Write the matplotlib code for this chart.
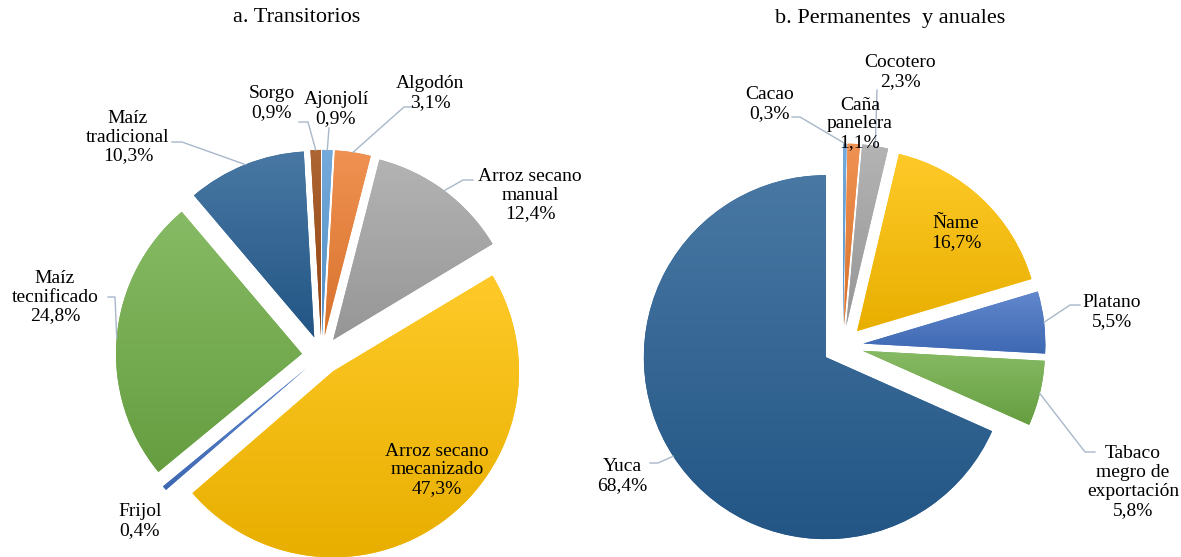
import numpy as np
import matplotlib.pyplot as plt
from matplotlib.colors import to_rgb

plt.rcParams['font.family'] = ['Liberation Serif', 'DejaVu Serif']

# a. Transitorios (clockwise from 12 o'clock)
trans_names = ['Ajonjolí', 'Algodón', 'Arroz secano\nmanual', 'Arroz secano\nmecanizado',
               'Frijol', 'Maíz\ntecnificado', 'Maíz\ntradicional', 'Sorgo']
trans_values = [0.9, 3.1, 12.4, 47.3, 0.4, 24.8, 10.3, 0.9]
trans_colors = ['#5B9BD5', '#ED7D31', '#A5A5A5', '#FFC000', '#4472C4', '#70AD47', '#265E92', '#9E480E']

# b. Permanentes y anuales
perm_names = ['Cacao', 'Caña\npanelera', 'Cocotero', 'Ñame', 'Platano',
              'Tabaco\nmegro de\nexportación', 'Yuca']
perm_values = [0.3, 1.1, 2.3, 16.7, 5.5, 5.8, 68.4]
perm_colors = ['#5B9BD5', '#ED7D31', '#A5A5A5', '#FFC000', '#4472C4', '#70AD47', '#265E92']

W, H = 1181, 557
fig = plt.figure(figsize=(W / 100, H / 100), dpi=100)
ax = fig.add_axes([0, 0, 1, 1])


def Y(y):
    # picture rows to data y
    return H - y


def gradient(ax, wedges, colors):
    for w, c in zip(wedges, colors):
        c = np.array(to_rgb(c))
        top = c + (1 - c) * 0.16
        bot = c * 0.91
        t = np.linspace(0, 1, 256)[:, None, None]
        img = bot + (top - bot) * t
        x0, y0, x1, y1 = w.get_path().get_extents().extents
        im = ax.imshow(img, extent=(x0, x1, y0, y1), origin='lower', aspect='auto',
                       interpolation='bilinear', zorder=2)
        im.set_clip_path(w)


def leaders(ax, wedges, lines):
    for w, pts in zip(wedges, lines):
        if pts is None:
            continue
        mid = np.deg2rad((w.theta1 + w.theta2) / 2)
        ex = w.center[0] + w.r * np.cos(mid)
        ey = w.center[1] + w.r * np.sin(mid)
        xs = [p[0] for p in pts] + [ex]
        ys = [Y(p[1]) for p in pts] + [ey]
        ax.plot(xs, ys, color='#A9B7CA', lw=1, zorder=3)


def draw_pie(ax, names, values, colors, center, radius, gap, text_pos, lines):
    wedges, _ = ax.pie(values, colors=colors, startangle=90, counterclock=False,
                       center=(center[0], Y(center[1])), radius=radius,
                       explode=[gap] * len(values), frame=True,
                       wedgeprops=dict(linewidth=0))
    gradient(ax, wedges, colors)
    leaders(ax, wedges, lines)
    for name, v, (tx, ty) in zip(names, values, text_pos):
        s = f'{name}\n{v:.1f}%'.replace('.', ',')
        ax.text(tx, Y(ty), s, ha='center', va='center', fontsize=14,
                linespacing=1.15, zorder=4)


trans_text = [(336, 109), (430, 93), (530, 195), (437, 470), (140, 521),
              (55, 297), (128, 137), (272, 103)]
trans_lines = [[(329, 128)], [(413, 107), (404, 107)], [(473, 180), (463, 180)], None, None,
               [(108, 297), (115, 297)], [(172, 142), (182, 142)], [(299, 122), (308, 122)]]

perm_text = [(770, 104), (860, 124), (900, 72), (956, 233), (1112, 312), (1133, 482), (622, 476)]
perm_lines = [[(792, 117), (800, 117)], None, [(877, 90)], None,
              [(1080, 305), (1070, 305)], [(1095, 452), (1085, 452)], [(650, 463), (658, 463)]]

draw_pie(ax, trans_names, trans_values, trans_colors, (321.5, 355.5), 186, 19.6,
         trans_text, trans_lines)
draw_pie(ax, perm_names, perm_values, perm_colors, (843, 346), 182, 20.5,
         perm_text, perm_lines)

ax.text(297, Y(18), 'a. Transitorios', ha='center', va='center', fontsize=16)
ax.text(890, Y(18), 'b. Permanentes  y anuales', ha='center', va='center', fontsize=16)

ax.set_xlim(0, W)
ax.set_ylim(0, H)
ax.set_aspect('auto')
ax.axis('off')

fig.savefig('out.png', dpi=100)
